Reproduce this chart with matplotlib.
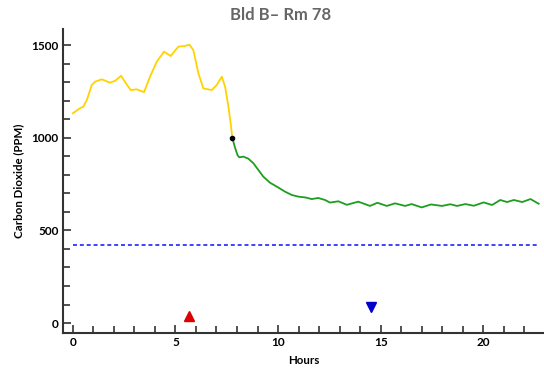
import matplotlib
matplotlib.use("Agg")
import matplotlib.pyplot as plt
from matplotlib.ticker import MultipleLocator

plt.rcParams['font.family'] = ['Lato', 'DejaVu Sans']

# Occupied period (yellow)
hours_occ = [0.0, 0.35, 0.51, 0.68, 0.92, 1.08, 1.41, 1.81, 2.06, 2.35, 2.59, 2.82,
             3.11, 3.47, 3.76, 4.09, 4.44, 4.77, 5.14, 5.47, 5.68, 5.87, 6.12, 6.36,
             6.77, 7.01, 7.26, 7.42, 7.58, 7.69, 7.77]
co2_occ = [1132, 1159, 1167, 1203, 1284, 1302, 1315, 1297, 1307, 1334, 1293, 1257,
           1261, 1246, 1329, 1410, 1464, 1441, 1491, 1495, 1502, 1473, 1347, 1266,
           1257, 1284, 1329, 1275, 1167, 1078, 1000]

# Decay period (green)
hours_dec = [7.77, 7.89, 8.02, 8.11, 8.31, 8.55, 8.80, 9.04, 9.28, 9.61, 9.94, 10.34,
             10.67, 10.99, 11.32, 11.64, 11.96, 12.29, 12.53, 12.94, 13.35, 13.91, 14.48,
             14.84, 15.3, 15.7, 16.19, 16.51, 17.0, 17.45, 17.99, 18.4, 18.72, 19.13,
             19.54, 20.02, 20.43, 20.83, 21.16, 21.49, 21.9, 22.3, 22.7]
co2_dec = [1000, 951, 907, 894, 898, 887, 862, 826, 790, 757, 736, 709,
           691, 682, 678, 669, 675, 664, 650, 657, 638, 655, 632,
           649, 632, 646, 632, 642, 624, 640, 632, 641, 632, 642,
           633, 651, 637, 664, 653, 664, 653, 669, 644]

transition = (7.77, 1000)
outdoor_level = 420
outdoor_span = (0.0, 22.7)
marker_up = (5.67, 40)
marker_down = (14.51, 85)

fig = plt.figure(figsize=(5.44, 3.68), dpi=100)
ax = fig.add_axes([63/544, 35.5/368, 1 - 63/544, (332.5 - 29.3)/368])

ax.plot(hours_occ, co2_occ, color='#FFD200', lw=1.3)
ax.plot(hours_dec, co2_dec, color='#1E9E1E', lw=1.3)
ax.plot([transition[0]], [transition[1]], 'o', color='black', ms=3)
ax.plot(list(outdoor_span), [outdoor_level, outdoor_level], color='#3333FF',
        lw=1.3, linestyle=(0, (2.2, 1.6)))
ax.plot([marker_up[0]], [marker_up[1]], '^', color='#DD0000', ms=7.5)
ax.plot([marker_down[0]], [marker_down[1]], 'v', color='#0000CC', ms=7.5)

ax.set_xlim(-0.48, 22.96)
ax.set_ylim(-50.7, 1584.7)

for s in ['top', 'right']:
    ax.spines[s].set_visible(False)
for s in ['left', 'bottom']:
    ax.spines[s].set_color('#333333')
    ax.spines[s].set_linewidth(1.5)

ax.xaxis.set_major_locator(MultipleLocator(5))
ax.xaxis.set_minor_locator(MultipleLocator(1))
ax.yaxis.set_major_locator(MultipleLocator(500))
ax.yaxis.set_minor_locator(MultipleLocator(100))
ax.tick_params(axis='both', which='both', direction='in', color='#333333', width=1.2)
ax.tick_params(axis='both', which='major', length=6, labelsize=8.5, pad=3)
ax.tick_params(axis='both', which='minor', length=5)
for lab in ax.get_xticklabels() + ax.get_yticklabels():
    lab.set_fontweight('bold')

ax.set_xlabel('Hours', fontsize=8.3, fontweight='bold', labelpad=5)
ax.set_ylabel('Carbon Dioxide (PPM)', fontsize=8.3, fontweight='bold', labelpad=5)

fig.text(281/544, 1 - 14.5/368, 'Bld B– Rm 78', ha='center', va='center',
         fontsize=12, fontweight='bold', color='#666666')

fig.savefig('out.png', dpi=100)
